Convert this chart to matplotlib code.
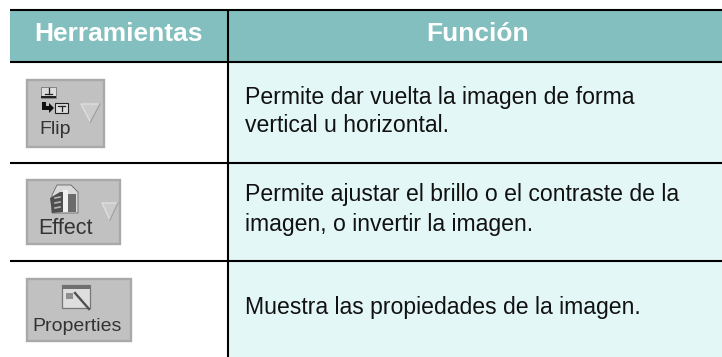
import matplotlib
matplotlib.use("Agg")
import matplotlib.pyplot as plt
from matplotlib.patches import Rectangle, Polygon

headers = ["Herramientas", "Función"]
tools = ["Flip", "Effect", "Properties"]
descriptions = [
    ["Permite dar vuelta la imagen de forma", "vertical u horizontal."],
    ["Permite ajustar el brillo o el contraste de la", "imagen, o invertir la imagen."],
    ["Muestra las propiedades de la imagen."],
]

TEAL = "#82bfbe"
PALE = "#e3f7f6"
BTN = "#c1c1c1"
BTN_E = "#a9a9a9"
INK = "#333333"
LEFT, DIV, RIGHT = 10, 227.5, 722
TOP, HEAD, BOT = 10, 62, 357
baselines = [[104, 132.5], [201.5, 231], [314]]
buttons = [(26, 79, 79, 69), (26, 179, 95, 65.5), (26, 277.5, 105.5, 64)]
label_x = [55.5, 65, 77.5]
label_y = [134, 234, 331]
label_size = [14, 15.5, 14]

fig = plt.figure(figsize=(7.22, 3.57), dpi=100)
ax = fig.add_axes([0, 0, 1, 1])
ax.set_xlim(0, 722)
ax.set_ylim(357, 0)
ax.axis("off")
plt.rcParams["font.family"] = "Liberation Sans"

ax.add_patch(Rectangle((LEFT, TOP), RIGHT - LEFT, HEAD - TOP, fc=TEAL, ec="none"))
ax.add_patch(Rectangle((DIV, HEAD), RIGHT - DIV, BOT - HEAD, fc=PALE, ec="none"))

lw = 1.5
for y in (TOP, HEAD, 163, 261):
    ax.plot([LEFT, RIGHT], [y, y], color="black", lw=lw, solid_capstyle="butt")
ax.plot([DIV, DIV], [TOP - 1, BOT], color="black", lw=lw, solid_capstyle="butt")

for x, t in zip((118, 478), headers):
    ax.text(x, 41, t, color="white", fontsize=19, fontweight="bold",
            ha="center", va="baseline")

for ys, lines in zip(baselines, descriptions):
    for y, line in zip(ys, lines):
        ax.text(245, y, line, color="#111111", fontsize=16.6, ha="left", va="baseline")

for (x, y, w, h), tool, lx, ly, fs in zip(buttons, tools, label_x, label_y, label_size):
    ax.add_patch(Rectangle((x + 1, y + 1), w - 2, h - 2, fc=BTN, ec=BTN_E, lw=1.7))
    ax.text(lx, ly, tool, color=INK, fontsize=fs, ha="center", va="baseline")

# Flip icon
ax.add_patch(Rectangle((41, 87), 15, 11, fc="#dcdcdc", ec="#777777", lw=0.6))
ax.add_patch(Rectangle((41, 96), 15, 2, fc="#222222", ec="none"))
ax.plot([45, 52], [94, 94], color="#222222", lw=0.9)
ax.plot([48.5, 48.5], [88, 94], color="#222222", lw=0.9)
ax.add_patch(Rectangle((55, 103), 13, 10, fc="#dcdcdc", ec="#222222", lw=0.8))
ax.plot([58, 65], [105.5, 105.5], color="#222222", lw=0.9)
ax.plot([61.5, 61.5], [105.5, 111], color="#222222", lw=0.9)
ax.add_patch(Polygon([(42, 102), (46, 102), (46, 106), (49, 106), (49, 103), (54, 108),
                      (49, 113), (49, 110), (42, 110)], fc="#111111", ec="none"))

# Effect icon
ax.add_patch(Polygon([(57, 185), (71, 185), (78, 192), (78, 213), (52, 213), (52, 195)],
                     fc="#dadada", ec="#666666", lw=0.6))
ax.add_patch(Polygon([(50, 198), (60, 192), (63, 192), (63, 212), (52, 213)],
                     fc="#4e4e4e", ec="none"))
for yy in (198, 203, 208):
    ax.plot([55, 60], [yy, yy - 1], color="#b5b5b5", lw=1.2)
ax.add_patch(Rectangle((67, 194), 9, 18, fc="#6b6b6b", ec="none"))
ax.add_patch(Rectangle((63, 190), 5, 22, fc="#f0f0f0", ec="none"))

# Properties icon
ax.add_patch(Rectangle((62, 285), 28, 23, fc="#dedede", ec="#777777", lw=0.9))
ax.add_patch(Rectangle((62, 285), 28, 3.5, fc="#707070", ec="none"))
ax.add_patch(Rectangle((66, 293), 7, 6, fc="#8f8f8f", ec="none"))
ax.plot([75, 89], [293, 309], color="#505050", lw=1.7)

# Dropdown triangles
for tx, ty, tw, th in ((81, 104, 19, 18), (102, 203, 16, 17)):
    ax.add_patch(Polygon([(tx, ty), (tx + tw, ty), (tx + tw / 2, ty + th)],
                         fc="#cbcbcb", ec="#dedede", lw=1))
    ax.plot([tx + tw, tx + tw / 2], [ty, ty + th], color="#a0a0a0", lw=1)

fig.savefig("out.png", dpi=100)
